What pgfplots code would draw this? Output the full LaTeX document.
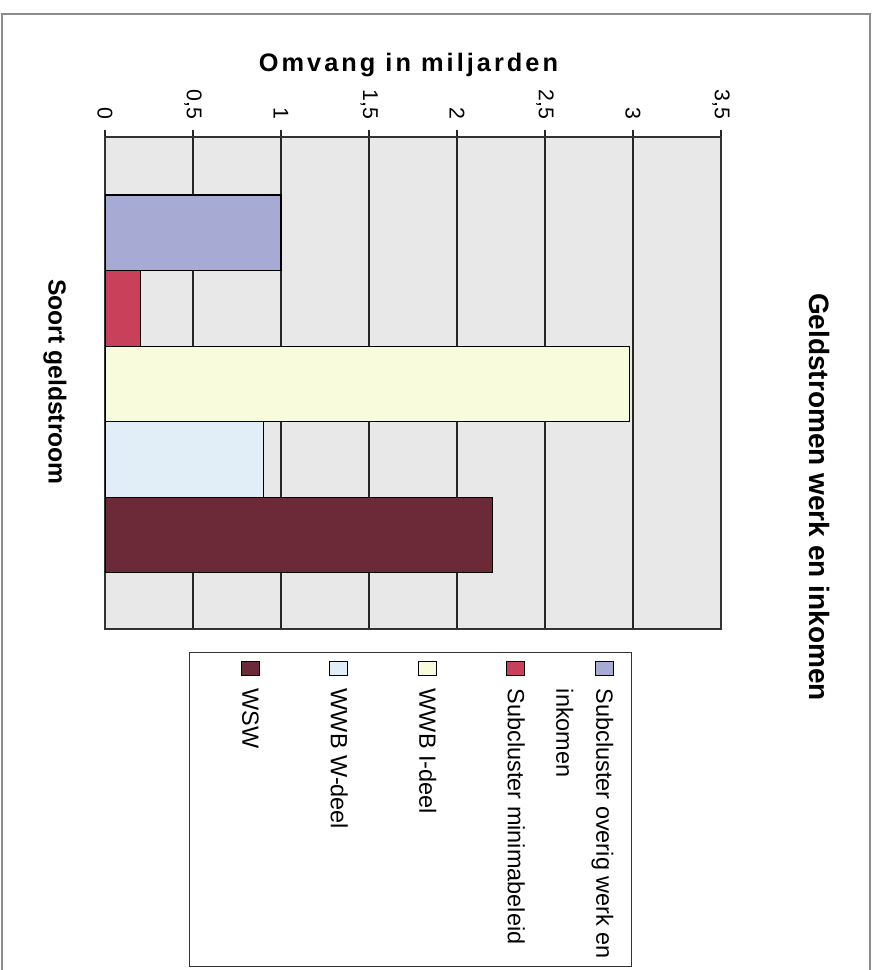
\documentclass[border=0pt]{standalone}
\usepackage{fontspec}
\setmainfont{Liberation Sans}
\usepackage{pgfplots}
\pgfplotsset{compat=1.18}
\definecolor{cOverig}{HTML}{A7AAD2}
\definecolor{cMinima}{HTML}{C9405A}
\definecolor{cIdeel}{HTML}{F9FCDC}
\definecolor{cWdeel}{HTML}{E2EEF7}
\definecolor{cWSW}{HTML}{6C2A38}
\definecolor{plotbg}{HTML}{E8E8E8}
\newcommand\legendfont{\fontsize{17.6}{21.8}\selectfont}
\pgfplotsset{mylegend/.style={legend image code/.code={\draw[##1, line width=0.7pt] (0pt,-0.75pt) rectangle (10.5pt,12.75pt);}}}
\begin{document}
\begin{tikzpicture}
\useasboundingbox (0,0) rectangle (657.75pt,-727.5pt);
\draw[black!45, line width=0.8pt] (1.5pt,-10.5pt) rectangle (652.5pt,-745pt);
\begin{scope}[shift={(657.75pt,0pt)}, rotate=-90, transform shape]
\begin{axis}[
  at={(102.75pt,-579pt)}, anchor=south west,
  scale only axis, width=369pt, height=462pt,
  xmin=-1.27, xmax=5.245, ymin=0, ymax=3.5,
  ytick={0,0.5,1,1.5,2,2.5,3,3.5},
  yticklabels={0,{0,5},1,{1,5},2,{2,5},3,{3,5}},
  xtick=\empty,
  ytick pos=left, yticklabel pos=left,
  tick align=outside, major tick length=5pt,
  ymajorgrids, grid style={black!85, line width=0.9pt},
  axis line style={black!80, line width=0.9pt},
  tick style={black!85, line width=0.9pt},
  axis background/.style={fill=plotbg},
  yticklabel style={anchor=east, inner sep=0pt, font=\fontsize{16}{19}\selectfont},
  yticklabel shift=8pt,
  legend style={at={(axis description cs:1.0467,0.8555)}, anchor=north west,
    draw=black!80, line width=0.8pt, fill=white,
    inner xsep=6pt, inner ysep=12.25pt, row sep=48.4pt, column sep=10pt,
    font=\legendfont, cells={anchor=base west},
    nodes={inner sep=0pt, text height=14pt, text depth=4pt}},
]
\addplot[ybar, bar width=1, bar shift=0pt, fill=cOverig, draw=black, line width=1pt, mylegend] coordinates {(0,1.0)};
\addlegendentry{\begin{tabular}[t]{@{}l@{}}Subcluster overig werk en\\[8.2pt]inkomen\end{tabular}}
\addplot[ybar, bar width=1, bar shift=0pt, fill=cMinima, draw=black, line width=1pt, mylegend] coordinates {(1,0.2)};
\addlegendentry{Subcluster minimabeleid}
\addplot[ybar, bar width=1, bar shift=0pt, fill=cIdeel, draw=black, line width=1pt, mylegend] coordinates {(2,2.98)};
\addlegendentry{WWB I-deel}
\addplot[ybar, bar width=1, bar shift=0pt, fill=cWdeel, draw=black, line width=1pt, mylegend] coordinates {(3,0.9)};
\addlegendentry{WWB W-deel}
\addplot[ybar, bar width=1, bar shift=0pt, fill=cWSW, draw=black, line width=1pt, mylegend] coordinates {(4,2.2)};
\addlegendentry[text depth=27.5pt]{WSW}
\end{axis}
\node[font=\bfseries\fontsize{21}{25}\selectfont] at (372.75pt,-43.5pt) {Geldstromen werk en inkomen};
\node[rotate=90, anchor=base, font=\bfseries\fontsize{19}{23}\selectfont\addfontfeatures{LetterSpace=12}] at (54pt,-351.4pt) {Omvang in miljarden};
\node[font=\bfseries\fontsize{18.5}{22}\selectfont] at (286.5pt,-616.5pt) {Soort geldstroom};
\end{scope}
\end{tikzpicture}
\end{document}
